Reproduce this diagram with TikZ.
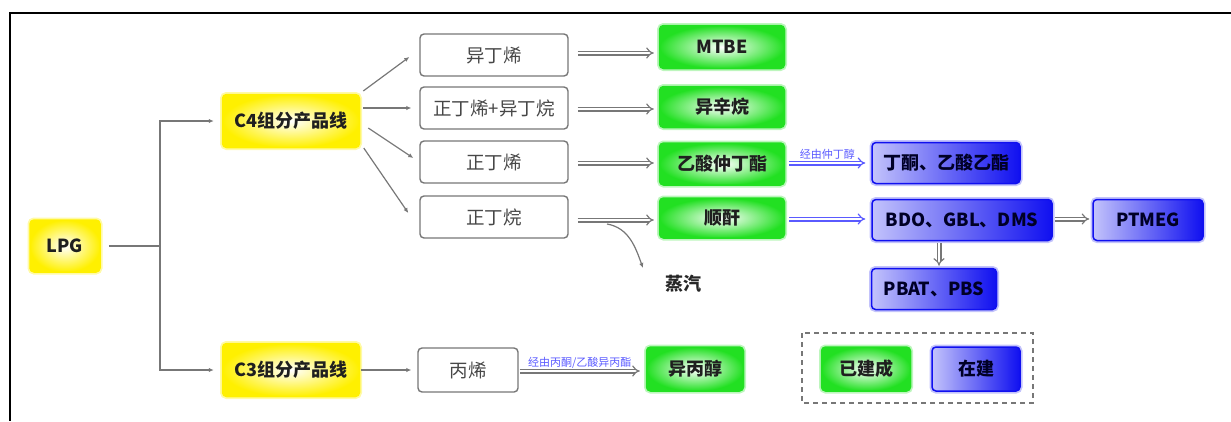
\documentclass[tikz,border=0pt]{standalone}
\usepackage{fontspec}
\setmainfont{Noto Sans CJK SC}
\usetikzlibrary{arrows.meta,calc}
\definecolor{mygreen}{HTML}{22E022}
\definecolor{myblue}{HTML}{1010F0}
\definecolor{myyellow}{HTML}{FFF000}
\definecolor{arrblue}{HTML}{5A5AFF}
\definecolor{arrgray}{HTML}{777777}
\tikzset{
  basebox/.style={rounded corners=4pt, inner sep=0pt, font=\fontsize{18}{20}\selectfont\bfseries, text=black!88},
  graybox/.style={draw=arrgray, line width=1.4pt, rounded corners=4pt, fill=white, inner sep=0pt,
    minimum width=148pt, minimum height=42pt, font=\fontsize{18.5}{20}\selectfont, text=black!72},
  ybox/.style={basebox, draw=myyellow, line width=1.5pt, inner color=white, outer color=myyellow,
    preaction={draw=myyellow!35, line width=5pt}},
  gbox/.style={basebox, draw=mygreen, line width=1.5pt, inner color=white, outer color=mygreen,
    preaction={draw=mygreen!30, line width=5pt}},
  bbox/.style={basebox, draw=myblue, line width=1.5pt, left color=myblue!25, right color=myblue,
    preaction={draw=myblue!25, line width=5pt}, text=black!85!blue},
  thin/.style={draw=arrgray, line width=1.2pt, -{Latex[length=5pt,width=4.5pt]}},
  dblg/.style={draw=arrgray, double=white, double distance=2.6pt, line width=1.2pt, -{Implies[length=5pt]}},
  dblb/.style={draw=arrblue, double=white, double distance=2.6pt, line width=1.2pt, -{Implies[length=5pt]}},
  smalllab/.style={font=\fontsize{11}{12}\selectfont, text=arrblue, inner sep=1pt},
}
\begin{document}
\begin{tikzpicture}[x=1pt,y=-1pt]
\useasboundingbox (0,0) rectangle (1231,421);
% frame
\draw[line width=1.5pt, black] (1231,13) -- (10,13) -- (10,421);

% nodes
\node[ybox, minimum width=70pt, minimum height=52pt] (LPG) at (65,246) {LPG};
\node[ybox, minimum width=137pt, minimum height=53pt] (C4) at (291,121) {C4组分产品线};
\node[ybox, minimum width=137pt, minimum height=53pt] (C3) at (291,370) {C3组分产品线};

\node[graybox] (B1) at (494,55) {异丁烯};
\node[graybox] (B2) at (494,108) {正丁烯+异丁烷};
\node[graybox] (B3) at (494,162) {正丁烯};
\node[graybox] (B4) at (494,217) {正丁烷};
\node[graybox, minimum width=100pt, minimum height=44pt] (B5) at (468,370) {丙烯};

\node[gbox, minimum width=125pt, minimum height=43pt] (G1) at (722,47) {MTBE};
\node[gbox, minimum width=125pt, minimum height=41pt] (G2) at (722,107) {异辛烷};
\node[gbox, minimum width=125pt, minimum height=42pt] (G3) at (722,164) {乙酸仲丁酯};
\node[gbox, minimum width=125pt, minimum height=40pt] (G4) at (722,218) {顺酐};
\node[gbox, minimum width=97pt, minimum height=44pt] (G5) at (695,369) {异丙醇};

\node[bbox, minimum width=148pt, minimum height=41pt] (U1) at (946,163) {丁酮、乙酸乙酯};
\node[bbox, minimum width=180pt, minimum height=41pt] (U2) at (962,220) {BDO、GBL、DMS};
\node[bbox, minimum width=110pt, minimum height=41pt] (U3) at (1148,220) {PTMEG};
\node[bbox, minimum width=125pt, minimum height=41pt] (U4) at (934,289) {PBAT、PBS};

\node[font=\fontsize{18}{20}\selectfont\bfseries, text=black!85, inner sep=0pt] (steam) at (683,284) {蒸汽};

% legend
\draw[draw=arrgray, line width=1.5pt, dash pattern=on 5pt off 4pt] (802,333) rectangle (1033,403);
\node[gbox, minimum width=89pt, minimum height=44pt] (L1) at (866,369) {已建成};
\node[bbox, minimum width=88pt, minimum height=44pt] (L2) at (976,369) {在建};

% LPG tree
\coordinate (j) at (160,246);
\draw[draw=arrgray, line width=1.2pt] ($(LPG.east)+(8,0)$) -- (j);
\draw[thin] (j) |- ($(C4.west)+(-8,0)$);
\draw[thin] (j) |- ($(C3.west)+(-8,0)$);

% C4 branches
\draw[thin] ($(C4.east)+(3,-30)$) -- ($(B1.west)+(-10,2)$);
\draw[thin] ($(C4.east)+(3,-13)$) -- ($(B2.west)+(-8,0)$);
\draw[thin] ($(C4.east)+(8,7)$) -- ($(B3.west)+(-6,-4)$);
\draw[thin] ($(C4.east)+(3.5,27)$) -- ($(B4.west)+(-11,-4)$);
\draw[thin] ($(C3.east)+(1,0)$) -- ($(B5.west)+(-6,0)$);

% double arrows
\draw[dblg] ($(B1.east)+(9,-2)$) -- ($(G1.west |- B1.east)+(-5,-2)$);
\draw[dblg] ($(B2.east)+(9,1)$) -- ($(G2.west |- B2.east)+(-5,1)$);
\draw[dblg] ($(B3.east)+(9,1)$) -- ($(G3.west |- B3.east)+(-5,1)$);
\draw[dblg] ($(B4.east)+(9,3)$) -- ($(G4.west |- B4.east)+(-5,3)$);
\draw[dblg] ($(B5.east)+(1,1)$) -- node[smalllab, above=1pt] {经由丙酮/乙酸异丙酯} ($(G5.west |- B5.east)+(-6,1)$);

\draw[dblb] ($(G3.east)+(4,-1)$) -- node[smalllab, above=2pt] {经由仲丁醇} ($(U1.west |- G3.east)+(-6,-1)$);
\draw[dblb] ($(G4.east)+(4,1)$) -- ($(U2.west |- G4.east)+(-6,1)$);
\draw[dblg] ($(U2.east)+(2,-1)$) -- ($(U3.west)+(-3,-1)$);
\draw[dblg] ($(U2.south)+(-23,2)$) -- ($(U4.north)+(5,-2)$);

% steam
\coordinate (s0) at (607,224);
\coordinate (s1) at (643,268);
\draw[thin] (s0) to[out=-10, in=110] (s1);
\end{tikzpicture}
\end{document}
